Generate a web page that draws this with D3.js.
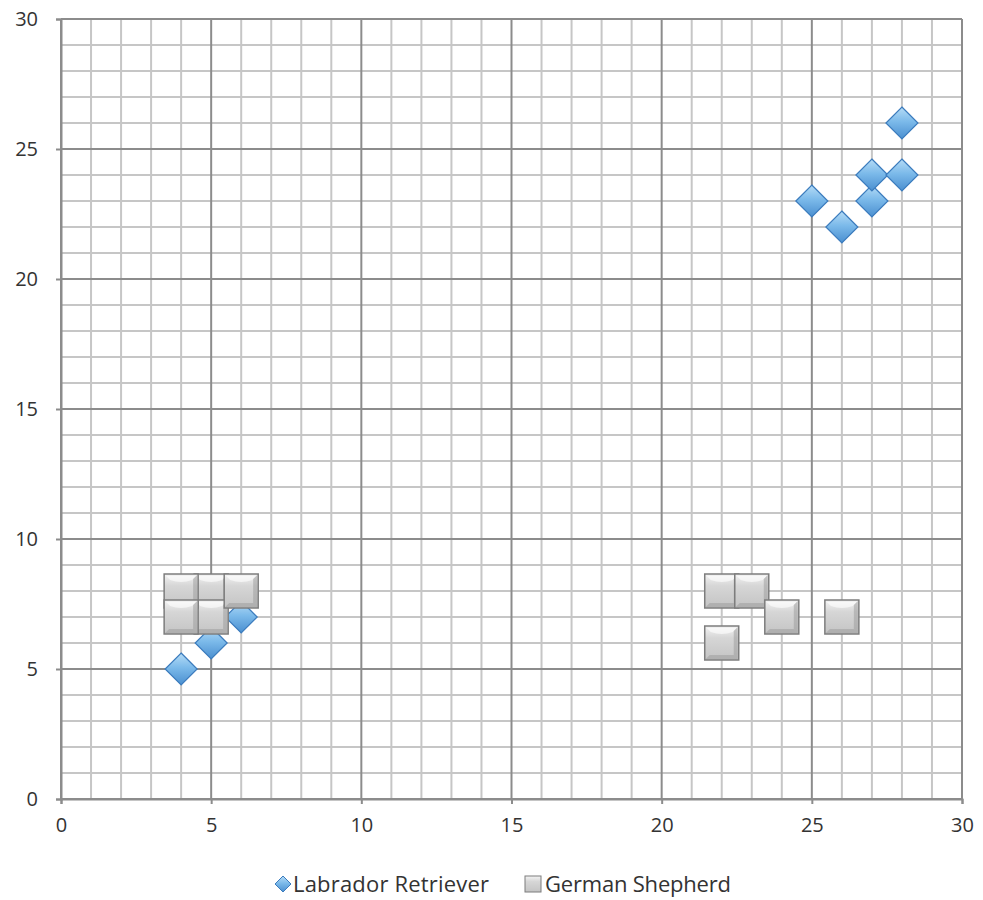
<!DOCTYPE html>
<html><head><meta charset="utf-8">
<script src="https://cdn.jsdelivr.net/npm/d3@7"></script>
<style>body{margin:0;background:#fff;}svg{display:block;}</style>
</head><body>
<script>
const seriesNames = ["Labrador Retriever", "German Shepherd"];
const labradorX = [4, 5, 6, 25, 26, 27, 27, 28, 28];
const labradorY = [5, 6, 7, 23, 22, 23, 24, 24, 26];
const shepherdX = [5, 5, 4, 4, 6, 22, 23, 24, 26, 22];
const shepherdY = [8, 7, 8, 7, 8, 8, 8, 7, 7, 6];
const xTicks = [0, 5, 10, 15, 20, 25, 30];
const yTicks = [0, 5, 10, 15, 20, 25, 30];

const W = 983, H = 900;
const m = {l: 61, r: 21, t: 19, b: 101};
const svg = d3.select("body").append("svg").attr("width", W).attr("height", H);
const defs = svg.append("defs");
const gb = defs.append("linearGradient").attr("id","gBlue").attr("x1",0).attr("y1",0).attr("x2",0).attr("y2",1);
gb.append("stop").attr("offset","0%").attr("stop-color","#b6dcf6");
gb.append("stop").attr("offset","45%").attr("stop-color","#7cbaea");
gb.append("stop").attr("offset","100%").attr("stop-color","#4a8fd0");
const gg = defs.append("linearGradient").attr("id","gGray").attr("x1",0).attr("y1",0).attr("x2",0).attr("y2",1);
gg.append("stop").attr("offset","0%").attr("stop-color","#f4f4f4");
gg.append("stop").attr("offset","35%").attr("stop-color","#d6d6d6");
gg.append("stop").attr("offset","100%").attr("stop-color","#c4c4c4");

const x = d3.scaleLinear().domain([0,30]).range([m.l, W - m.r]);
const y = d3.scaleLinear().domain([0,30]).range([H - m.b, m.t]);

const grid = svg.append("g");
const minor = d3.range(0, 31);
grid.selectAll("line.vx").data(minor.filter(d => d % 5)).join("line")
  .attr("x1", d => x(d)).attr("x2", d => x(d)).attr("y1", y(0)).attr("y2", y(30))
  .attr("stroke", "#c6c6c6").attr("stroke-width", 2);
grid.selectAll("line.hy").data(minor.filter(d => d % 5)).join("line")
  .attr("y1", d => y(d)).attr("y2", d => y(d)).attr("x1", x(0)).attr("x2", x(30))
  .attr("stroke", "#c6c6c6").attr("stroke-width", 2);
grid.selectAll("line.vX").data(xTicks).join("line")
  .attr("x1", d => x(d)).attr("x2", d => x(d)).attr("y1", y(0)).attr("y2", y(30))
  .attr("stroke", "#8c8c8c").attr("stroke-width", 2);
grid.selectAll("line.hY").data(yTicks).join("line")
  .attr("y1", d => y(d)).attr("y2", d => y(d)).attr("x1", x(0)).attr("x2", x(30))
  .attr("stroke", "#8c8c8c").attr("stroke-width", 2);

const xAxis = svg.append("g").attr("transform", `translate(0,${y(0)})`)
  .call(d3.axisBottom(x).tickValues(xTicks).tickSize(5).tickPadding(14));
const yAxis = svg.append("g").attr("transform", `translate(${x(0)},0)`)
  .call(d3.axisLeft(y).tickValues(yTicks).tickSize(5).tickPadding(18));
[xAxis, yAxis].forEach(a => {
  a.select(".domain").attr("stroke", "#8c8c8c").attr("stroke-width", 2);
  a.selectAll(".tick line").attr("stroke", "#8c8c8c").attr("stroke-width", 2);
  a.selectAll("text").attr("font-family", "Open Sans, sans-serif").attr("font-size", 20).attr("fill", "#333");
});

const lab = labradorX.map((v, i) => [v, labradorY[i]]);
const ger = shepherdX.map((v, i) => [v, shepherdY[i]]);
const dr = 16;
const diamond = `M0,${-dr}L${dr},0L0,${dr}L${-dr},0Z`;
svg.append("g").selectAll("path").data(lab).join("path")
  .attr("transform", d => `translate(${x(d[0])},${y(d[1])})`)
  .attr("d", diamond).attr("fill", "url(#gBlue)").attr("stroke", "#3b7bbd").attr("stroke-width", 1.2);

const s = 17;
const gs = svg.append("g").selectAll("g").data(ger).join("g")
  .attr("transform", d => `translate(${x(d[0])},${y(d[1])})`);
gs.append("rect").attr("x", -s).attr("y", -s).attr("width", 2*s).attr("height", 2*s)
  .attr("fill", "url(#gGray)").attr("stroke", "#7d7d7d").attr("stroke-width", 1.5);
gs.append("path").attr("d", `M${-s+2},${-s+2}L${s-2},${-s+2}L${s-6},${-s+6}Q0,${-s+10} ${-s+6},${-s+6}Z`)
  .attr("fill", "#ffffff").attr("opacity", 0.6);
gs.append("path").attr("d", `M${-s+1},${s-1}L${s-1},${s-1}L${s-1},${-s+1}L${s-5},${-s+5}L${s-5},${s-5}L${-s+5},${s-5}Z`)
  .attr("fill", "#9a9a9a").attr("opacity", 0.5);

const leg = svg.append("g").attr("font-family", "Open Sans, sans-serif").attr("font-size", 22).attr("fill", "#333");
const ly = 884;
leg.append("path").attr("transform", `translate(283,${ly})`).attr("d", "M0,-8L8,0L0,8L-8,0Z")
  .attr("fill", "url(#gBlue)").attr("stroke", "#3b7bbd");
leg.append("text").attr("x", 293).attr("y", ly).attr("dy", "0.35em").attr("textLength", 196).text(seriesNames[0]);
leg.append("rect").attr("x", 525).attr("y", ly-8).attr("width", 16).attr("height", 16)
  .attr("fill", "url(#gGray)").attr("stroke", "#7d7d7d");
leg.append("text").attr("x", 545).attr("y", ly).attr("dy", "0.35em").attr("textLength", 186).text(seriesNames[1]);
</script>
</body></html>
